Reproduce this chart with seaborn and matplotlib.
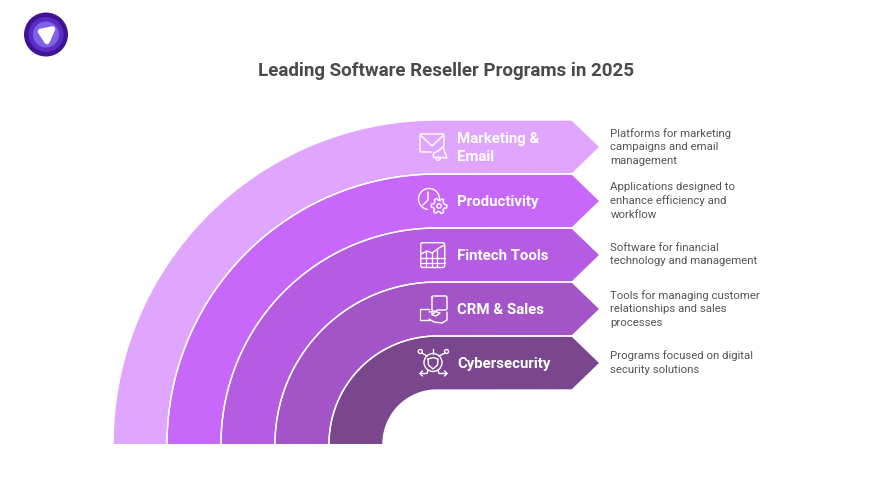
import numpy as np
import matplotlib
matplotlib.use("Agg")
import matplotlib.pyplot as plt
from matplotlib.patches import Circle, Polygon, FancyBboxPatch
import seaborn as sns

title = "Leading Software Reseller Programs in 2025"
categories = ["Marketing &\nEmail", "Productivity", "Fintech Tools", "CRM & Sales", "Cybersecurity"]
descriptions = [
    "Platforms for marketing\ncampaigns and email\nmanagement",
    "Applications designed to\nenhance efficiency and\nworkflow",
    "Software for financial\ntechnology and management",
    "Tools for managing customer\nrelationships and sales\nprocesses",
    "Programs focused on digital\nsecurity solutions",
]
band_colors = ["#E0A6FF", "#C868FB", "#B65CE2", "#A355C8", "#7A478E"]

sns.set_theme(style="white")
plt.rcParams["font.family"] = ["Roboto", "DejaVu Sans"]

fig = plt.figure(figsize=(8.76, 4.93), dpi=100, facecolor="white")
ax = fig.add_axes([0, 0, 1, 1])
ax.set_xlim(0, 876)
ax.set_ylim(493, 0)
ax.axis("off")

palette = sns.color_palette(band_colors)
CX, CY = 437, 444
BAND = 54
BODY_END, TIP = 572, 600
PX = 0.72
W = "white"


def band(r, color):
    t = np.linspace(np.pi, 1.5 * np.pi, 120)
    ri = r - BAND
    outer = np.c_[CX + r * np.cos(t), CY + r * np.sin(t)]
    inner = np.c_[CX + ri * np.cos(t[::-1]), CY + ri * np.sin(t[::-1])]
    top = CY - r
    arrow = [[BODY_END, top], [TIP, top + BAND / 2], [BODY_END, top + BAND]]
    pts = np.vstack([outer, arrow, inner])
    ax.add_patch(Polygon(pts, closed=True, fc=color, ec="none"))
    return pts


def line(pts, lw=1.0, closed=False):
    p = np.array(pts, float)
    if closed:
        p = np.vstack([p, p[:1]])
    ax.plot(p[:, 0], p[:, 1], color=W, lw=lw, solid_capstyle="round", solid_joinstyle="round")


def circ(x, y, r, lw=1.0):
    ax.add_patch(Circle((x, y), r, fc="none", ec=W, lw=lw))


def rrect(x0, y0, x1, y1, rad=2, lw=1.0):
    ax.add_patch(FancyBboxPatch((x0, y0), x1 - x0, y1 - y0, boxstyle=f"round,pad=0,rounding_size={rad}",
                                fc="none", ec=W, lw=lw))


def icon_mail():
    line([(431, 152), (421, 152), (420, 151), (420, 135), (421, 134), (443, 134), (444, 135), (444, 146)])
    line([(420.5, 135), (432, 146), (443.5, 135)])
    line([(438, 151), (443, 147), (447, 158), (441, 157.5), (434, 157.5), (433, 155), (434, 153), (438, 151)])
    line([(436, 158), (437, 160.5), (440, 160), (440, 157.5)])


def icon_clock():
    a = np.radians(np.linspace(100, 365, 70))
    line(np.c_[429 + 10.5 * np.cos(a), 199 + 10.5 * np.sin(a)])
    line([(428, 192), (428, 200), (423, 205)])
    n = 48
    ang = np.linspace(0, 2 * np.pi, n, endpoint=False)
    rr = np.where(np.cos(6 * ang) > 0, 7.8, 5.6)
    line(np.c_[439 + rr * np.cos(ang), 206 + rr * np.sin(ang)], closed=True)
    circ(439, 206, 2.2)


def icon_chart():
    rrect(420.7, 242.7, 444.7, 267.5, rad=2)
    top = {426: 251.3, 431.5: 252.8, 437: 249.5}
    for x, y in top.items():
        line([(x, y), (x, 267)], lw=0.9)
    for y, x0 in ((258, 421), (263, 421)):
        line([(x0, y), (444.5, y)], lw=0.9)
    line([(421, 254), (427, 251), (432, 253), (439, 248), (444.5, 245)])


def icon_crm():
    line([(432, 297), (433, 296), (446, 296), (447, 297), (447, 309), (446, 310), (437, 310), (432, 315), (432, 297)])
    line([(420, 309), (429, 309)])
    line([(420, 320), (429, 320)])
    line([(420, 309), (420, 320)], lw=0.8)
    for y in (311.5, 314.5, 317.5):
        line([(425.5, y), (425.6, y)], lw=1.6)
    line([(429, 312), (434, 311), (440, 313), (436, 316), (433, 315)])
    line([(429, 319), (434, 322), (442, 323), (447, 320), (447, 312)])


def icon_cyber():
    circ(433, 362.5, 9)
    line([(428, 359), (433, 357.5), (438, 359), (437.5, 365), (433, 369), (428.5, 365)], closed=True)
    circ(420.3, 351.5, 2); circ(446.5, 351.5, 2)
    line([(422, 353), (427, 356)]); line([(445, 353), (439, 356)])
    line([(433, 349), (433, 353.5)])
    line([(420, 373.5), (427, 373.5), (428, 370)]); line([(447, 373.5), (439, 373.5), (438, 370)])
    line([(422.5, 371), (420, 373.5), (422.5, 376)]); line([(444.5, 371), (447, 373.5), (444.5, 376)])


icons = [icon_mail, icon_clock, icon_chart, icon_crm, icon_cyber]
outlines = []
for i, (cat, desc, col) in enumerate(zip(categories, descriptions, palette)):
    r = (6 - i) * BAND
    outlines.append(band(r, col))
    mid = CY - r + BAND / 2
    ax.text(457, mid + 1, cat, color=W, fontsize=15 * PX, fontweight="bold",
            ha="left", va="center", linespacing=1.4)
    ax.text(610.5, mid - 0.3, desc, color="#555555", fontsize=11.4 * PX, ha="left", va="center",
            linespacing=1.42)

for pts in outlines:
    ax.plot(pts[:, 0], pts[:, 1], color=W, lw=1.0, solid_capstyle="butt", solid_joinstyle="miter")

for icon in icons:
    icon()

ax.text(446.5, 71, title, color="#4A4A4A", fontsize=18.75 * PX, fontweight="bold", ha="center", va="center")

# logo
for x, y, rad, c in [(46, 34.5, 22, "#3E1396"), (46, 34.5, 17.5, "#5A2CC4"), (46, 34.5, 13, "#7E62EA")]:
    ax.add_patch(Circle((x, y), rad, fc=c, ec="none"))
ax.add_patch(Polygon([(40.5, 31.5), (52.5, 29), (47, 41.5)], closed=True, fc=W, ec=W, lw=4,
                     joinstyle="round"))

fig.savefig("out.png", dpi=100, facecolor="white")
